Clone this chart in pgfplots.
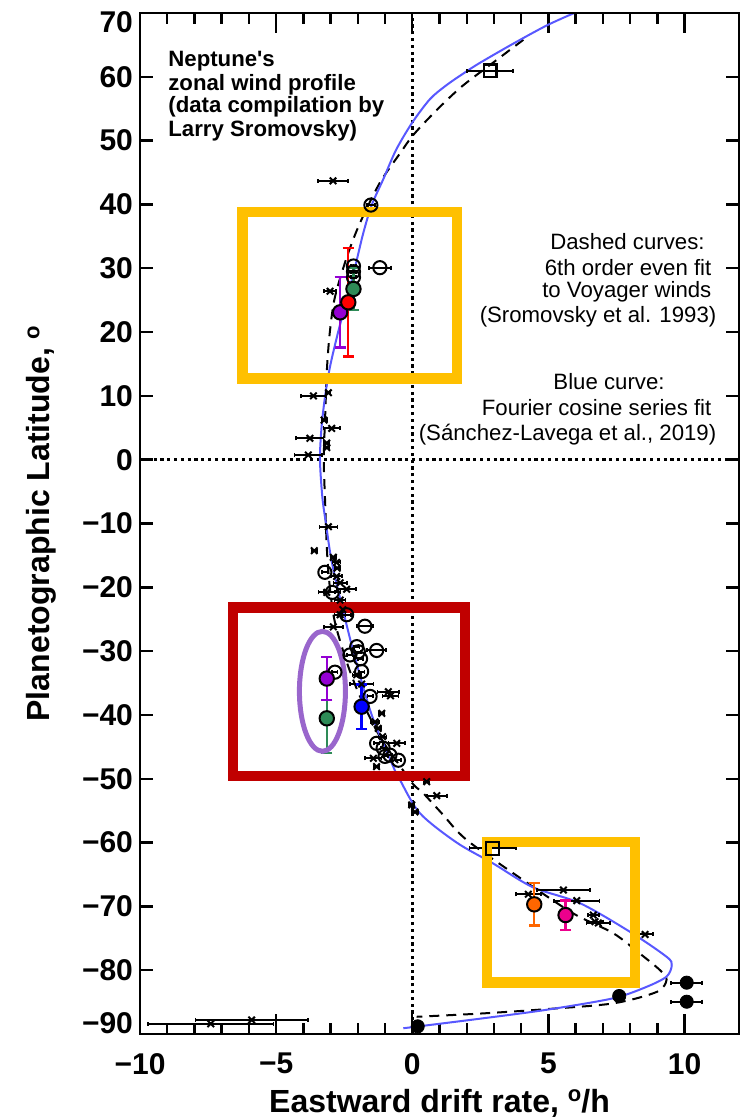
\documentclass[border=0pt]{standalone}
\usepackage{pgfplots}
\pgfplotsset{compat=1.18}
\usepackage{fontspec}
\setmainfont{Liberation Sans}
\definecolor{bluecurve}{RGB}{88,88,255}
\definecolor{gold}{RGB}{255,192,0}
\definecolor{darkred}{RGB}{192,0,0}
\definecolor{ellpurple}{RGB}{153,102,204}
\definecolor{sgreen}{RGB}{46,139,87}
\definecolor{dviolet}{RGB}{148,0,211}
\definecolor{orng}{RGB}{255,102,0}
\newcommand{\degsym}{\raisebox{0.62ex}{\fontsize{11}{11}\selectfont o}}
\pgfplotsset{
  base/.style={
    scale only axis, width=299.5pt, height=510.5pt,
    xmin=-10, xmax=12, ymin=-90, ymax=70,
    axis line style={line width=1.3pt},
    every tick/.style={black, line width=1.2pt},
    tick align=inside,
    tick label style={font=\fontsize{15}{18}\selectfont\bfseries},
  },
  crossplot/.style={only marks, mark=x, mark size=2.3pt, mark options={line width=1pt, black},
    error bars/.cd, x dir=both, x explicit, error bar style={line width=1pt, black},
    error mark options={rotate=90, mark size=1pt, line width=0.8pt, black}},
  colpt/.style={only marks, mark=*, mark size=3.6pt, mark options={fill=#1, draw=black, line width=1pt},
    error bars/.cd, y dir=both, y explicit, error bar style={line width=1.2pt, #1},
    error mark options={rotate=90, mark size=2.8pt, line width=1.2pt, #1}},
}
\begin{document}
\begin{tikzpicture}
\begin{axis}[base,
  xtick={-10,-5,0,5,10}, xticklabels={−10,−5,0,5,10},
  minor x tick num=4,
  major tick length=10pt, minor tick length=5.3pt,
  xticklabel style={yshift=-6pt},
  ytick=\empty, extra y ticks={-90}, extra y tick labels={−90},
  extra y tick style={yticklabel style={yshift=5.5pt}},
  xlabel={Eastward drift rate, \degsym/h},
  xlabel style={font=\fontsize{16}{19}\selectfont\bfseries, at={(axis description cs:0.5,0)}, anchor=base, yshift=-39pt},
  ylabel={Planetographic Latitude, \degsym},
  ylabel style={font=\fontsize{16}{19}\selectfont\bfseries, at={(axis description cs:-0.1503,0.5)}, anchor=base},
]
% reference dotted lines
\addplot[black, line width=1.3pt, dash pattern=on 1.6pt off 1.8pt] coordinates {(0,-90) (0,70)};
\addplot[black, line width=1.3pt, dash pattern=on 1.6pt off 1.8pt] coordinates {(-10,0) (12,0)};
% dashed 6th order fit
\addplot[black, line width=1pt, dash pattern=on 5pt off 3.5pt, smooth] coordinates {
(4.08,65.8) (2.9,62.0) (1.81,58.45) (0.9,54.8) (0.04,50.9) (-0.45,48.0) (-1.19,43.4) (-1.92,37.1) (-2.4,31.8) (-2.84,25.5) (-3.02,20.3) (-3.13,14.5) (-3.2,6.7) (-3.25,0) (-3.2,-6.7) (-3.13,-14.5) (-3.02,-20.3) (-2.84,-25.5) (-2.4,-31.8) (-1.92,-37.1) (-1.19,-43.4) (-0.45,-48.0) (0.04,-50.9) (0.41,-52.3) (1.1,-55.5) (2.0,-59.6) (4.08,-65.9) (5.91,-71.1) (7.38,-74.2) (8.36,-77.4) (9.1,-80.0) (9.34,-81.5) (8.98,-83.4) (7.38,-85.2) (4.94,-86.1) (2.49,-86.8) (0.16,-87.3)};
% blue Fourier fit
\addplot[bluecurve, line width=1pt, smooth] coordinates {
(5.95,70) (4.94,68.05) (3.71,65.2) (2.49,62.2) (1.94,60.7) (1.26,58.7) (0.65,56.5) (-0.02,52.7) (-0.6,48.5) (-1.06,44.0) (-1.49,39.9) (-1.8,35.5) (-2.1,30.2) (-2.41,25.0) (-2.72,20.05) (-3.02,14.6) (-3.2,10.0) (-3.33,5.2) (-3.39,0) (-3.3,-6) (-3.17,-10.0) (-3.0,-15) (-2.75,-20.0) (-2.16,-30.1) (-1.49,-40.0) (-0.70,-48.1) (-0.45,-50.2) (0.28,-55.4) (1.63,-60.0) (2.98,-63.3) (4.43,-67.0) (6.16,-69.5) (8.0,-74.0) (9.34,-77.9) (9.53,-79.2) (9.34,-81.0) (8.61,-82.6) (7.38,-84.4) (4.94,-86.2) (2.49,-87.6) (-0.33,-89.1)};
% crosses
\addplot[crossplot] table[x=x, y=y, x error=ex] {
x y ex
-2.91 43.7 0.55
-3.02 26.4 0.22
-3.08 10.5 0.08
-3.63 10.0 0.45
-3.24 6.2 0.1
-2.96 4.9 0.3
-3.76 3.35 0.5
-3.14 2.6 0.1
-3.14 1.9 0.1
-3.82 0.73 0.5
-3.08 -10.5 0.33
-3.60 -14.26 0.1
-2.90 -15.3 0.1
-2.78 -16.1 0.15
-2.76 -17.0 0.1
-2.78 -18.3 0.2
-2.65 -19.3 0.25
-2.41 -20.3 0.35
-3.14 -20.8 0.3
-2.65 -22.0 0.2
-2.55 -23.5 0.15
-2.65 -24.3 0.2
-2.90 -26.2 0.35
-2.04 -33.7 0.15
-1.86 -35.16 0.43
-0.88 -36.36 0.4
-0.80 -37.0 0.3
-1.12 -39.75 0.1
-1.37 -41.1 0.15
-1.25 -42.1 0.1
-1.09 -43.4 0.15
-0.57 -44.45 0.3
-1.43 -46.8 0.3
-1.31 -48.1 0.1
0.53 -50.46 0.1
0.90 -52.65 0.37
-0.02 -54.1 0.1
0.10 -55.2 0.1
4.26 -68.1 0.46
5.55 -67.44 0.98
6.04 -69.1 0.83
6.65 -71.36 0.2
6.71 -72.4 0.3
6.83 -72.6 0.43
8.55 -74.4 0.3
-7.40 -88.4 2.3
-5.90 -87.8 2.06
};
% open circles
\addplot[only marks, mark=o, mark size=3.3pt, mark options={line width=1pt, black},
  error bars/.cd, x dir=both, x explicit, error bar style={line width=1pt, black},
  error mark options={rotate=90, mark size=1pt, line width=0.8pt, black}] table[x=x, y=y, x error=ex] {
x y ex
-1.52 39.9 0.15
-2.16 30.35 0.1
-2.16 29.46 0.1
-2.16 28.58 0.1
-1.19 30.09 0.4
-3.21 -17.65 0.1
-2.94 -20.8 0.3
-2.41 -24.3 0.15
-1.74 -26.1 0.3
-2.04 -29.3 0.1
-1.98 -30.1 0.1
-2.29 -30.6 0.1
-1.31 -29.9 0.35
-1.9 -31.2 0.1
-2.84 -33.3 0.1
-1.86 -33.2 0.1
-1.55 -37.1 0.1
-1.31 -44.45 0.1
-1.07 -45.2 0.1
-0.82 -46.3 0.1
-0.51 -47.1 0.1
-1.0 -46.5 0.1
};
% filled black circles
\addplot[only marks, mark=*, mark size=3.3pt, mark options={black},
  error bars/.cd, x dir=both, x explicit, error bar style={line width=1pt, black},
  error mark options={rotate=90, mark size=1pt, line width=0.8pt, black}] table[x=x, y=y, x error=ex] {
x y ex
10.08 -81.96 0.57
10.08 -84.94 0.57
7.6 -84.05 0
0.2 -88.8 0
};
% squares
\addplot[only marks, mark=square, mark size=3.2pt, mark options={line width=1.1pt, black},
  error bars/.cd, x dir=both, x explicit, error bar style={line width=1pt, black},
  error mark options={rotate=90, mark size=1pt, line width=0.8pt, black}] table[x=x, y=y, x error=ex] {
x y ex
2.86 60.91 0.85
2.95 -60.9 0.85
};
% coloured points
\addplot[colpt=sgreen] coordinates {(-2.16,26.75) +- (0,3.3)};
\addplot[colpt=dviolet] coordinates {(-2.65,23.09) +- (0,5.5)};
\addplot[colpt=red] coordinates {(-2.35,24.66) +- (0,8.5)};
\addplot[colpt=sgreen] coordinates {(-3.14,-40.53) +- (0,5.4)};
\addplot[colpt=dviolet] coordinates {(-3.14,-34.3) +- (0,3.4)};
\addplot[colpt=blue] coordinates {(-1.86,-38.71) +- (0,3.5)};
\addplot[colpt=orng] coordinates {(4.48,-69.68) +- (0,3.3)};
\addplot[colpt=magenta] coordinates {(5.63,-71.36) +- (0,2.3)};
% annotation boxes
\draw[gold, line width=5.25pt] (axis cs:-6.24,38.8) rectangle (axis cs:1.64,12.7);
\draw[darkred, line width=5.25pt] (axis cs:-6.58,-23.2) rectangle (axis cs:1.94,-49.6);
\draw[gold, line width=5.25pt] (axis cs:2.74,-59.9) rectangle (axis cs:8.18,-81.9);
\draw[ellpurple, line width=2.5pt] (axis cs:-3.30,-36.3) ellipse [x radius=11.5pt, y radius=30pt];
% texts
\begin{scope}[every node/.style={font=\fontsize{11.1}{13}\selectfont\bfseries, anchor=base west, inner sep=0pt}]
\node at (axis cs:-8.972,61.69) {Neptune\textquotesingle s};
\node at (axis cs:-8.972,57.93) {zonal wind profile};
\node at (axis cs:-8.972,54.33) {(data compilation by};
\node at (axis cs:-8.972,50.57) {Larry Sromovsky)};
\end{scope}
\begin{scope}[every node/.style={font=\fontsize{11.1}{13}\selectfont, anchor=base east, inner sep=0pt}]
\node at (axis cs:10.75,32.86) {Dashed curves:};
\node at (axis cs:11.0,28.94) {6th order even fit};
\node at (axis cs:11.0,25.34) {to Voyager winds};
\node at (axis cs:11.18,21.42) {(Sromovsky et al. 1993)};
\node at (axis cs:9.28,11.0) {Blue curve:};
\node at (axis cs:11.0,7.0) {Fourier cosine series fit};
\node at (axis cs:11.18,3.08) {(Sánchez-Lavega et al., 2019)};
\end{scope}
\end{axis}
\begin{axis}[base, xtick=\empty,
  ytick={-80,-70,...,60},
  yticklabels={−80,−70,−60,−50,−40,−30,−20,−10,0,10,20,30,40,50,60},
  major tick length=6.3pt,
  extra y ticks={70}, extra y tick labels={70},
  extra y tick style={yticklabel style={yshift=-4.4pt}},
]
\end{axis}
\pgfresetboundingbox
\path[use as bounding box] (current axis.south west) ++(-70pt,-41.5pt) rectangle ++(374pt,558.5pt);
\end{tikzpicture}
\end{document}
